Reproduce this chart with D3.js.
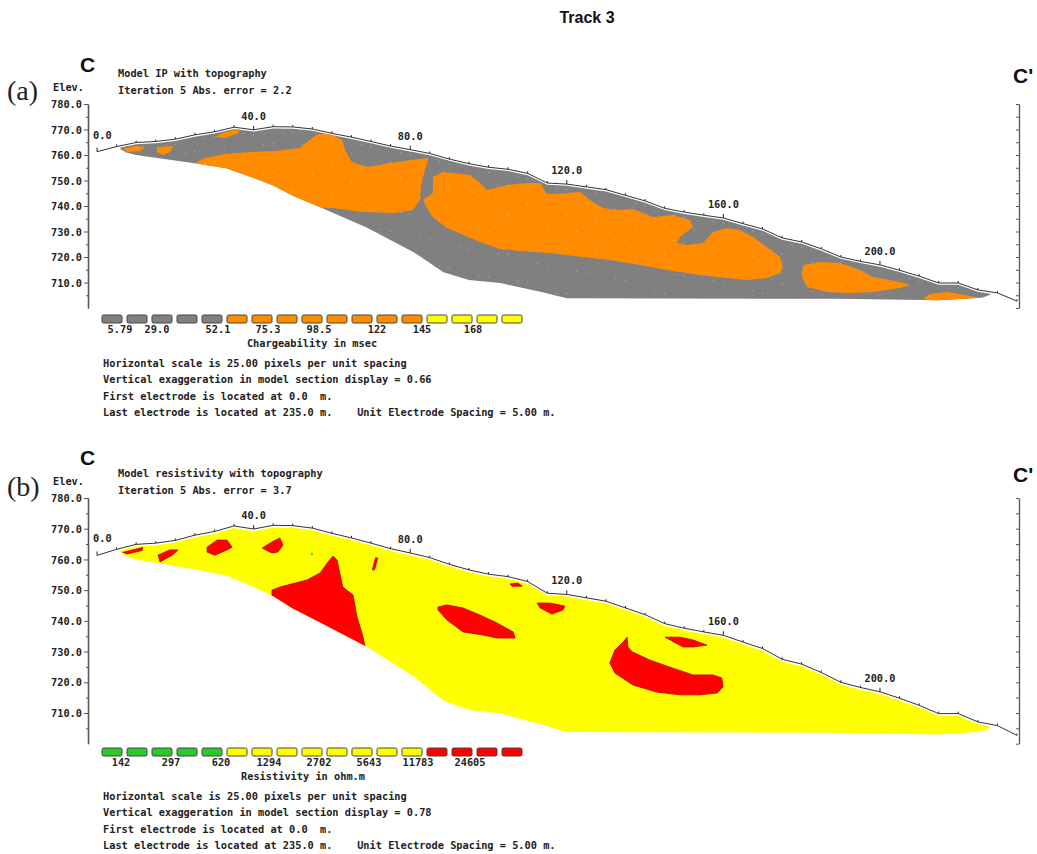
<!DOCTYPE html>
<html>
<head>
<meta charset="utf-8">
<script src="https://cdn.jsdelivr.net/npm/d3@7"></script>
<style>
  body { margin: 0; background: #fff; }
  svg { display: block; }
  .mono { font-family: "DejaVu Sans Mono", "Liberation Mono", monospace; font-weight: bold; font-size: 10.3px; fill: #222; white-space: pre; }
</style>
</head>
<body>
<svg id="chart" width="1037" height="854"></svg>
<script>
// ---- Survey line: electrode positions (m) and surface elevation (m) ----
const electrodeDist = [0,5,10,15,20,25,30,35,40,45,50,55,60,65,70,75,80,85,90,95,100,105,110,115,
  120,125,130,135,140,145,150,155,160,165,170,175,180,185,190,195,200,205,210,215,220,225,230,235];
const surfaceElev = [761.3,763.3,764.9,765.3,766.2,767.9,769.1,770.9,769.9,771.1,771.0,770.2,768.5,767.0,
  765.3,763.5,762.1,760.6,758.4,756.6,755.2,754.4,752.8,749.0,748.6,747.5,746.4,744.2,742.0,739.1,
  737.6,736.4,735.3,733.1,731.0,727.5,725.9,723.2,720.0,718.3,716.9,714.8,712.5,709.8,709.8,707.1,705.9,702.7];
const distanceLabels = [0, 40, 80, 120, 160, 200];
const elevTicks = [710, 720, 730, 740, 750, 760, 770, 780];

// ---- Lower limit of the inverted model section ----
const baseDist = [6.0, 7.5, 10, 15.4, 24, 33, 40, 45, 50, 57, 69, 81, 88.5, 95, 103, 113.5, 120, 189, 215, 226, 228.4];
const baseElev = [762.3, 761.0, 760.0, 758.8, 757.0, 754.8, 751.0, 748.0, 744.0, 739.5, 731.5, 721.8, 714.0,
  711.0, 709.8, 706.3, 703.8, 703.6, 703.0, 704.0, 705.3];

// Depths (m below surface) of the model cell centres
const layerDepth = [2.0, 6.5, 11.8, 18.0, 25.2, 33.5, 43.0];

// ---- (a) Chargeability: zones above ~60 msec, as [distance m, elevation m] ----
const ipZoneTip = [[6.6,762.4],[9.7,763.5],[12.3,763.1],[11.0,761.6],[7.9,761.2]];
const ipZoneNearSurface1 = [[15.3,763.1],[19.4,763.5],[18.7,761.2],[16.9,760.0],[15.3,761.2]];
const ipZoneNearSurface2 = [[30.1,767.1],[32.7,769.0],[36.5,770.4],[36.0,768.6],[32.7,766.7]];
const ipZoneWest = [[25.0,756.9],[27.6,758.8],[32.7,760.4],[39.1,761.2],[45.5,761.6],[51.9,762.7],[54.9,766.7],
  [56.5,768.2],[60.0,768.2],[62.6,765.9],[63.4,762.0],[65.1,757.3],[69.2,755.3],[74.8,756.9],[80.5,758.0],
  [84.6,758.8],[83.8,754.1],[82.8,748.2],[82.5,742.4],[80.7,738.4],[76.1,737.3],[67.9,737.6],[60.3,739.2],
  [55.2,739.6],[50.0,738.0],[35.0,745.0],[25.0,752.0]];
const ipZoneCentral = [[83.3,742.4],[85.8,745.1],[85.8,751.4],[88.4,753.3],[95.3,752.2],[97.8,749.0],[99.6,746.3],
  [104.7,748.2],[109.8,749.0],[113.2,749.0],[114.9,744.7],[117.0,744.7],[120.1,745.1],[123.4,745.5],[125.9,742.4],
  [129.3,739.2],[132.8,738.4],[136.9,738.8],[139.5,737.3],[142.0,735.7],[147.1,736.5],[151.5,734.5],[152.2,731.8],
  [148.9,727.8],[148.2,725.5],[150.7,724.7],[154.8,725.5],[157.3,729.8],[160.9,731.4],[164.2,730.6],[167.6,727.8],
  [171.1,723.9],[174.5,720.0],[175.2,716.1],[174.5,713.7],[171.1,711.8],[166.0,711.0],[160.9,711.8],[154.0,712.9],
  [145.6,714.9],[138.7,716.9],[131.0,718.8],[124.1,720.0],[115.7,721.6],[108.0,722.4],[102.9,723.1],[97.8,725.9],
  [89.4,731.4],[85.8,735.7],[84.3,739.2]];
const ipZoneEast = [[180.3,716.9],[184.7,718.0],[189.8,717.6],[194.9,714.9],[198.2,712.2],[205.1,710.2],[207.7,709.0],
  [205.1,707.8],[198.2,706.3],[192.3,705.9],[186.5,706.3],[181.4,708.2],[180.1,712.2]];
const ipZoneEnd = [[211.0,703.5],[212.8,705.5],[217.1,706.3],[221.7,705.1],[225.5,703.9],[220.4,702.7],[214.1,702.7]];

// ---- (b) Resistivity: zones above ~20000 ohm.m ----
const resZone1 = [[6.6,762.3],[11.7,763.9],[11.5,762.9],[7.7,761.8]];
const resZone2 = [[15.6,761.4],[18.6,763.1],[20.7,763.1],[19.2,761.4],[16.1,759.2]];
const resZone3 = [[28.1,764.0],[30.7,766.3],[33.2,766.3],[34.5,764.0],[33.2,763.1],[30.1,761.4],[28.1,762.4]];
const resZone4 = [[42.2,763.7],[44.7,765.7],[46.7,767.0],[47.5,764.7],[46.2,762.4],[44.7,762.1]];
const resZone5 = [[44.7,750.0],[46.7,751.0],[53.6,753.3],[57.0,755.6],[58.8,758.8],[60.3,761.1],[61.3,759.8],
  [62.8,751.0],[65.4,748.4],[66.4,741.3],[67.7,736.0],[68.5,731.5],[72.3,726.6],[72.3,722.0],[55.0,735.0],[44.7,746.0]];
const resZone6 = [[70.3,756.6],[70.9,756.6],[71.7,760.4],[71.2,760.6]];
const resZone7 = [[87.1,744.5],[89.4,745.2],[93.5,744.2],[97.8,741.9],[102.2,739.3],[106.3,736.4],[106.8,734.4],
  [102.2,734.4],[98.6,735.4],[93.5,736.4],[89.4,740.3],[87.1,743.5]];
const resZone8 = [[105.5,752.0],[107.5,752.3],[108.6,751.3],[106.0,751.3]];
const resZone9 = [[112.4,745.8],[115.7,745.8],[119.5,744.8],[119.0,743.5],[116.2,742.2],[113.2,744.2]];
const resZone10 = [[145.1,734.7],[148.9,734.7],[152.2,733.8],[155.8,732.1],[152.2,731.5],[149.7,731.5]];
const resZone11 = [[135.4,734.7],[135.6,731.5],[136.7,729.9],[141.3,727.2],[147.1,724.6],[152.2,722.4],[157.3,722.4],
  [159.6,721.4],[159.9,718.5],[158.4,716.5],[154.0,715.9],[148.9,715.9],[143.0,716.8],[136.9,719.1],[132.3,723.0],
  [131.0,726.3],[132.3,730.5],[134.4,733.1]];
const resLowSpot = [54.9, 761.8];

// ---- Colour legends ----
const ipLegendColors = ['#808080','#808080','#808080','#808080','#808080',
  '#ff8c00','#ff8c00','#ff8c00','#ff8c00','#ff8c00','#ff8c00','#ff8c00','#ff8c00',
  '#ffff00','#ffff00','#ffff00','#ffff00'];
const ipLegendLabels = ['5.79','29.0','52.1','75.3','98.5','122','145','168'];
const resLegendColors = ['#2ac82a','#2ac82a','#2ac82a','#2ac82a','#2ac82a',
  '#ffff00','#ffff00','#ffff00','#ffff00','#ffff00','#ffff00','#ffff00','#ffff00',
  '#ff0000','#ff0000','#ff0000','#ff0000'];
const resLegendLabels = ['142','297','620','1294','2702','5643','11783','24605'];

// Label positions along the legend, in box units (layout)
const ipLabelSlots = [0.72, 2.2, 4.64, 6.64, 8.68, 11.0, 12.8, 14.84];
const resLabelSlots = [0.76, 2.76, 4.76, 6.68, 8.68, 10.68, 12.64, 14.72];

const svg = d3.select('#chart');
const x = d3.scaleLinear().domain([0, 235]).range([97, 1017]);

function surfaceAt(m) {
  let i = d3.bisectRight(electrodeDist, m) - 1;
  i = Math.max(0, Math.min(electrodeDist.length - 2, i));
  const t = (m - electrodeDist[i]) / (electrodeDist[i + 1] - electrodeDist[i]);
  return surfaceElev[i] + t * (surfaceElev[i + 1] - surfaceElev[i]);
}

// Section outline: surface (with a thin gap) down to the model base
const gap = 0.7;
const m0 = baseDist[0], m1 = baseDist[baseDist.length - 1];
const sectionTop = [[m0, surfaceAt(m0) - gap]]
  .concat(electrodeDist.filter(d => d > m0 && d < m1).map(d => [d, surfaceAt(d) - gap]))
  .concat([[m1 - 0.6, surfaceAt(m1 - 0.6) - gap]]);
const sectionBase = baseDist.map((d, i) => [d, baseElev[i]]).reverse();
const sectionOutline = sectionTop.concat(sectionBase);

svg.append('text').attr('x', 587).attr('y', 23).attr('text-anchor', 'middle')
  .style('font-family', '"Liberation Sans", Arial, sans-serif').style('font-weight', 'bold')
  .style('font-size', '16px').attr('fill', '#111').text('Track 3');

function drawPanel(cfg) {
  const y = d3.scaleLinear().domain([700, 780]).range(cfg.yRange);
  const g = svg.append('g');
  const line = d3.line().x(d => x(d[0])).y(d => y(d[1])).curve(d3.curveLinearClosed);

  // Labels
  g.append('text').attr('x', 7).attr('y', cfg.tagY)
    .style('font-family', '"Liberation Serif", "DejaVu Serif", serif').style('font-size', '28px')
    .attr('fill', '#222').text(cfg.tag);
  g.append('text').attr('x', 80).attr('y', cfg.cY)
    .style('font-family', '"Liberation Sans", Arial, sans-serif').style('font-weight', 'bold')
    .style('font-size', '21px').attr('fill', '#111').text('C');
  g.append('text').attr('x', 1013).attr('y', cfg.cpY)
    .style('font-family', '"Liberation Sans", Arial, sans-serif').style('font-weight', 'bold')
    .style('font-size', '21px').attr('fill', '#111').text("C'");
  g.append('text').attr('class', 'mono').attr('x', 118).attr('y', cfg.titleY).text(cfg.title);
  g.append('text').attr('class', 'mono').attr('x', 118).attr('y', cfg.titleY + 17).text(cfg.iteration);
  g.append('text').attr('class', 'mono').attr('x', 53).attr('y', y(780) - 13).text('Elev.');

  // Elevation axes
  const axisStyle = sel => {
    sel.select('.domain').attr('stroke', '#555').attr('stroke-width', 1.3);
    sel.selectAll('.tick line').attr('stroke', '#555');
    sel.selectAll('text').attr('class', 'mono').attr('font-family', null).attr('font-size', null)
      .attr('fill', '#222').attr('dy', '0.35em');
  };
  const minorTicks = d3.range(705, 780, 10);
  g.append('g').attr('transform', 'translate(88,0)')
    .call(d3.axisLeft(y).tickValues(elevTicks).tickFormat(d3.format('.1f')).tickSize(4).tickSizeOuter(0).tickPadding(2))
    .call(axisStyle);
  g.append('g').attr('transform', 'translate(88,0)')
    .call(d3.axisLeft(y).tickValues(minorTicks).tickFormat('').tickSize(2).tickSizeOuter(0))
    .call(axisStyle);
  g.append('g').attr('transform', 'translate(1019,0)')
    .call(d3.axisLeft(y).tickValues(d3.range(700, 781, 5)).tickFormat('').tickSize(3).tickSizeOuter(0))
    .call(axisStyle);

  // Model section
  const clipId = 'clip-' + cfg.tag.replace(/\W/g, '');
  g.append('clipPath').attr('id', clipId).append('path').attr('d', line(sectionOutline));
  g.append('path').attr('d', line(sectionOutline)).attr('fill', cfg.baseColor);
  const zones = g.append('g').attr('clip-path', `url(#${clipId})`);
  cfg.zones.forEach(z => {
    zones.append('path').attr('d', line(z)).attr('fill', cfg.zoneColor)
      .attr('stroke', cfg.zoneStroke).attr('stroke-width', cfg.zoneStroke === 'none' ? 0 : 0.8);
  });
  if (cfg.spot) {
    zones.append('circle').attr('cx', x(cfg.spot[0])).attr('cy', y(cfg.spot[1])).attr('r', 1.3).attr('fill', '#6c6');
  }
  if (cfg.meshDots) {
    const cells = [];
    electrodeDist.forEach((d, i) => layerDepth.forEach((z, j) => {
      const m = d + ((i + j) % 2 ? 2.5 : 0);
      cells.push([m, surfaceAt(m) - z]);
    }));
    zones.selectAll('circle.cell').data(cells).enter().append('circle').attr('class', 'cell')
      .attr('cx', d => x(d[0])).attr('cy', d => y(d[1])).attr('r', 0.6)
      .attr('fill', '#fff').attr('opacity', 0.4);
  }

  // Surface line with electrode marks
  const surf = electrodeDist.map((d, i) => [d, surfaceElev[i]]);
  g.append('path').attr('d', d3.line().x(d => x(d[0])).y(d => y(d[1]))(surf))
    .attr('fill', 'none').attr('stroke', '#333').attr('stroke-width', 1);
  g.selectAll(null).data(surf).enter().append('line')
    .attr('x1', d => x(d[0])).attr('x2', d => x(d[0]))
    .attr('y1', d => y(d[1])).attr('y2', d => y(d[1]) - (distanceLabels.includes(d[0]) ? 4 : 2))
    .attr('stroke', '#222').attr('stroke-width', 1);
  g.selectAll(null).data(distanceLabels).enter().append('text').attr('class', 'mono')
    .attr('x', d => d === 0 ? x(d) - 4 : x(d))
    .attr('text-anchor', d => d === 0 ? 'start' : 'middle')
    .attr('y', d => y(surfaceAt(d)) - (d === 0 ? 13 : 10))
    .text(d => d3.format('.1f')(d));

  // Colour legend
  const lx = d3.scaleLinear().domain([0, 17]).range([102, 527]);
  g.selectAll(null).data(cfg.legendColors).enter().append('rect')
    .attr('x', (d, i) => lx(i)).attr('y', cfg.legendY).attr('width', 20).attr('height', 8)
    .attr('rx', 1.5).attr('fill', d => d).attr('stroke', '#444').attr('stroke-width', 1);
  g.selectAll(null).data(cfg.legendLabels).enter().append('text').attr('class', 'mono')
    .attr('x', (d, i) => lx(cfg.labelSlots[i])).attr('y', cfg.legendY + 18)
    .attr('text-anchor', 'middle').text(d => d);
  g.append('text').attr('class', 'mono').attr('x', cfg.legendTitleX).attr('y', cfg.legendY + 32)
    .attr('text-anchor', 'middle').text(cfg.legendTitle);

  g.selectAll(null).data(cfg.notes).enter().append('text').attr('class', 'mono')
    .attr('x', 103).attr('y', (d, i) => cfg.legendY + 52 + i * 16.3).text(d => d);
}

drawPanel({
  tag: '(a)', tagY: 100, cY: 72, cpY: 83, titleY: 77,
  title: 'Model IP with topography', iteration: 'Iteration 5 Abs. error = 2.2',
  yRange: [308, 104],
  baseColor: '#808080', zoneColor: '#ff8c00', zoneStroke: 'none',
  zones: [ipZoneTip, ipZoneNearSurface1, ipZoneNearSurface2, ipZoneWest, ipZoneCentral, ipZoneEast, ipZoneEnd],
  meshDots: true,
  legendY: 315, legendColors: ipLegendColors, legendLabels: ipLegendLabels, labelSlots: ipLabelSlots,
  legendTitle: 'Chargeability in msec', legendTitleX: 312,
  notes: ['Horizontal scale is 25.00 pixels per unit spacing',
    'Vertical exaggeration in model section display = 0.66',
    'First electrode is located at 0.0  m.',
    'Last electrode is located at 235.0 m.    Unit Electrode Spacing = 5.00 m.']
});

drawPanel({
  tag: '(b)', tagY: 496, cY: 465, cpY: 482, titleY: 477,
  title: 'Model resistivity with topography', iteration: 'Iteration 5 Abs. error = 3.7',
  yRange: [743.7, 498],
  baseColor: '#ffff00', zoneColor: '#ff0000', zoneStroke: '#c00000',
  zones: [resZone1, resZone2, resZone3, resZone4, resZone5, resZone6, resZone7, resZone8, resZone9, resZone10, resZone11],
  spot: resLowSpot,
  meshDots: false,
  legendY: 748, legendColors: resLegendColors, legendLabels: resLegendLabels, labelSlots: resLabelSlots,
  legendTitle: 'Resistivity in ohm.m', legendTitleX: 303,
  notes: ['Horizontal scale is 25.00 pixels per unit spacing',
    'Vertical exaggeration in model section display = 0.78',
    'First electrode is located at 0.0  m.',
    'Last electrode is located at 235.0 m.    Unit Electrode Spacing = 5.00 m.']
});
</script>
</body>
</html>
